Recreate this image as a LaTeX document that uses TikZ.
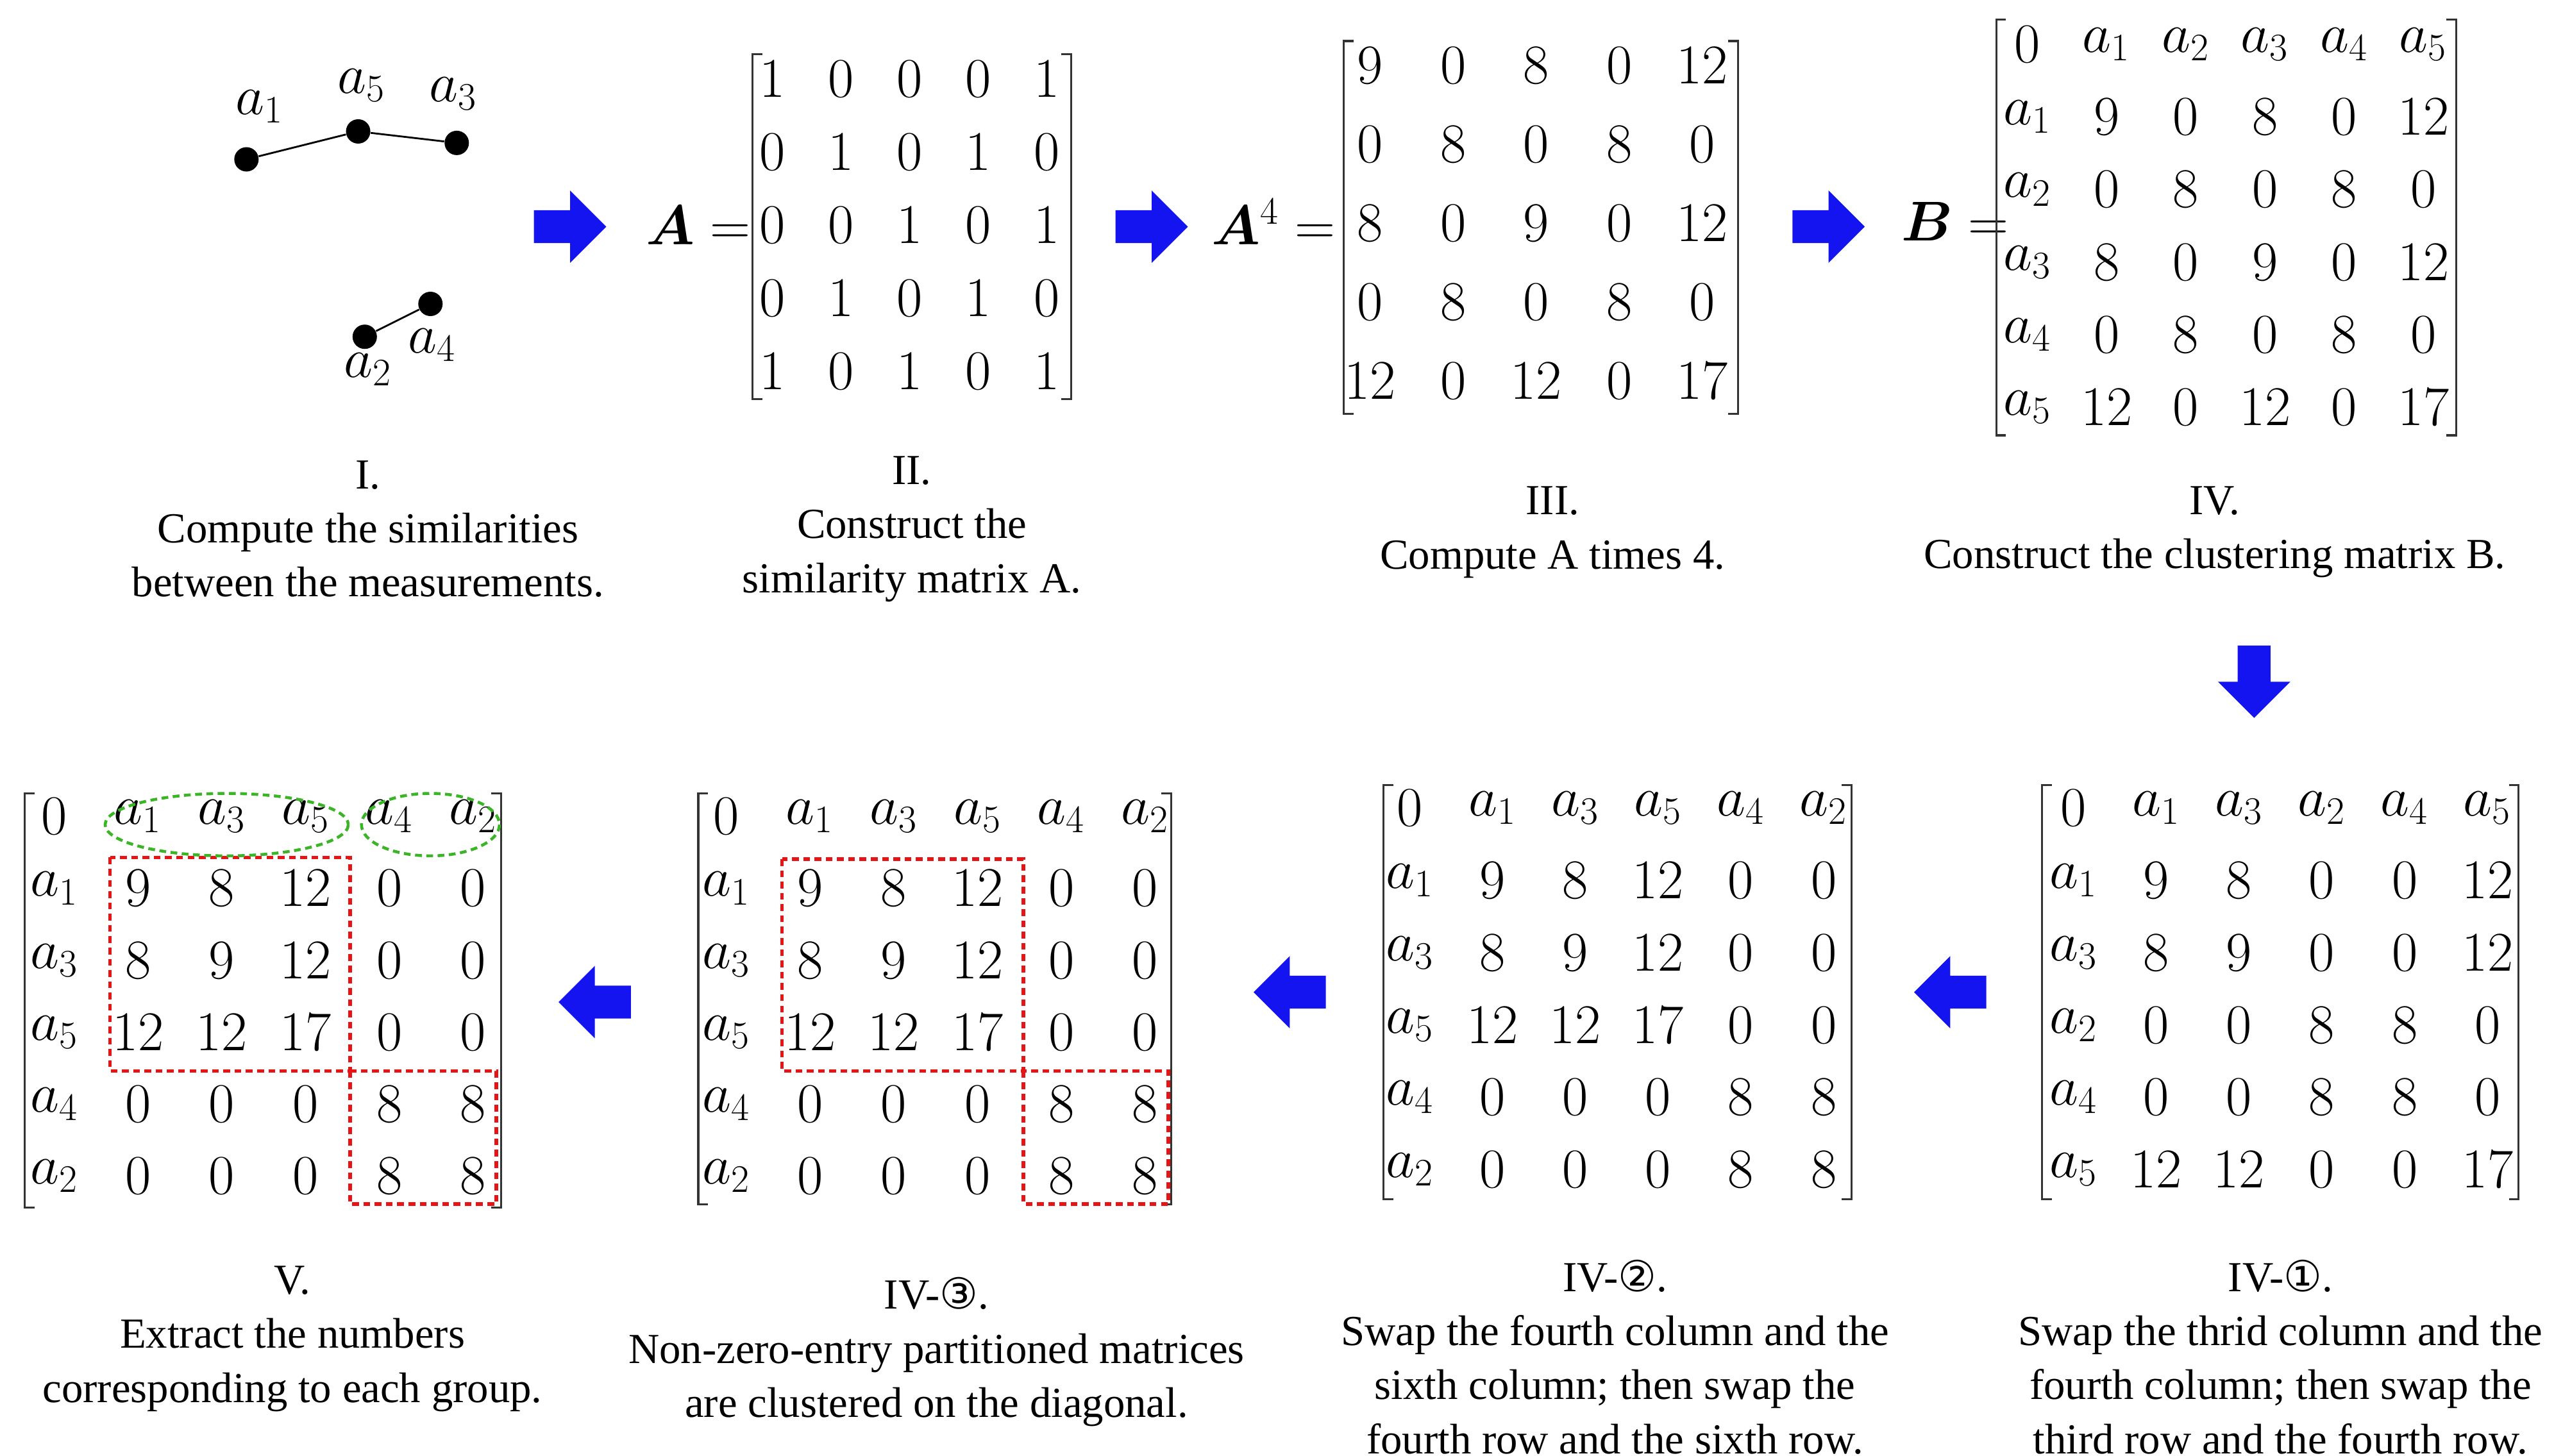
\documentclass[tikz,border=0pt]{standalone}
\usepackage{amsmath}
\usepackage{bm}
\usepackage{fontspec}
\setmainfont{Liberation Serif}
\newfontfamily\symfont{DejaVu Sans}
\usetikzlibrary{positioning}
\definecolor{arrowblue}{RGB}{20,20,240}
\definecolor{boxred}{RGB}{230,20,20}
\definecolor{ringgreen}{RGB}{60,180,40}

% entries of a matrix: prefix, x0, dx, y0, dy, number of columns, entries
\newcommand{\putmat}[7]{%
  \foreach \e [count=\k from 0] in {#7} {
    \pgfmathtruncatemacro\rr{\k/#6}
    \pgfmathtruncatemacro\cc{mod(\k,#6)}
    \node[entry] (#1-\rr-\cc) at ({#2+\cc*#3},{#4+\rr*#5}) {$\e$};
  }}
% brackets of a matrix: left, right, top, bottom
\newcommand{\brackets}[4]{%
  \draw[bracket] (#1+6,#3)--(#1,#3)--(#1,#4)--(#1+6,#4);
  \draw[bracket] (#2-6,#3)--(#2,#3)--(#2,#4)--(#2-6,#4);}

\begin{document}
\begin{tikzpicture}[x=0.02562cm, y=-0.02562cm,
    entry/.style={inner sep=0pt, font=\fontsize{23}{28}\selectfont},
    caption/.style={align=center, font=\fontsize{19}{24}\selectfont},
    bracket/.style={line width=0.9pt, black!80},
    dot/.style={circle, fill=black, minimum size=0.38cm, inner sep=0pt},
    vlabel/.style={font=\fontsize{24}{28}\selectfont},
    redbox/.style={boxred, densely dashed, line width=1.6pt},
    greenring/.style={ringgreen, densely dashed, line width=1.3pt},
    blockarrow/.pic={\fill[arrowblue] (-22,-10)--(0,-10)--(0,-22)--(22,0)--(0,22)--(0,10)--(-22,10)--cycle;}
]
\useasboundingbox (0,0) rectangle (1560,886);

% I. graph of the measurements
\node[dot] (n1) at (150,97) {};
\node[dot] (n5) at (218,80) {};
\node[dot] (n3) at (278,87) {};
\node[dot] (n2) at (222,205) {};
\node[dot] (n4) at (262,185) {};
\node[vlabel] at (158,65) {$a_1$};
\node[vlabel] at (220,52) {$a_5$};
\node[vlabel] at (276,57) {$a_3$};
\node[vlabel] at (224,225) {$a_2$};
\node[vlabel] at (263,210) {$a_4$};
\draw[thick] (n1) -- (n5) -- (n3);
\draw[thick] (n2) -- (n4);
\node[caption] (capI) at (224,322) {I.\\Compute the similarities\\between the measurements.};

% II. similarity matrix A
\pic at (347,138) {blockarrow};
\node[entry] (labA) at (425,137) {$\bm{A}=$};
\brackets{458}{652}{33}{243}
\putmat{a}{470}{41.75}{48}{44.5}{5}{1,0,0,0,1, 0,1,0,1,0, 0,0,1,0,1, 0,1,0,1,0, 1,0,1,0,1}
\node[caption] (capII) at (555,322) {II.\\Construct the\\similarity matrix A.};

% III. A to the fourth
\pic at (701,138) {blockarrow};
\node[entry] (labA4) at (775,135) {$\bm{A}^{4}=$};
\brackets{818}{1058}{25}{252}
\putmat{p}{834}{50.5}{40}{48}{5}{9,0,8,0,12, 0,8,0,8,0, 8,0,9,0,12, 0,8,0,8,0, 12,0,12,0,17}
\node[caption] (capIII) at (945,324) {III.\\Compute A times 4.};

% IV. clustering matrix B
\pic at (1113,138) {blockarrow};
\node[entry] (labB) at (1190,135) {$\bm{B}=$};
\brackets{1215}{1495}{12}{265}
\putmat{b}{1234}{48.2}{27}{44.2}{6}{0,a_1,a_2,a_3,a_4,a_5, a_1,9,0,8,0,12, a_2,0,8,0,8,0, a_3,8,0,9,0,12, a_4,0,8,0,8,0, a_5,12,0,12,0,17}
\node[caption] (capIV) at (1348,324) {IV.\\Construct the clustering matrix B.};

% IV-1. first swap
\pic[rotate=-90] at (1372,415) {blockarrow};
\brackets{1243}{1533}{478}{730}
\putmat{s}{1262}{50.4}{492}{44}{6}{0,a_1,a_3,a_2,a_4,a_5, a_1,9,8,0,0,12, a_3,8,9,0,0,12, a_2,0,0,8,8,0, a_4,0,0,8,8,0, a_5,12,12,0,0,17}
\node[caption] (capIVa) at (1388,826) {IV-{\symfont ①}.\\Swap the thrid column and the\\fourth column; then swap the\\third row and the fourth row.};

% IV-2. second swap
\pic[rotate=180] at (1187,604) {blockarrow};
\brackets{842}{1127}{478}{730}
\putmat{t}{858}{50.4}{492}{44}{6}{0,a_1,a_3,a_5,a_4,a_2, a_1,9,8,12,0,0, a_3,8,9,12,0,0, a_5,12,12,17,0,0, a_4,0,0,0,8,8, a_2,0,0,0,8,8}
\node[caption] (capIVb) at (983,826) {IV-{\symfont ②}.\\Swap the fourth column and the\\sixth column; then swap the\\fourth row and the sixth row.};

% IV-3. partitioned matrices
\pic[rotate=180] at (785,604) {blockarrow};
\brackets{425}{713}{483}{733}
\putmat{u}{442}{51}{497}{43.8}{6}{0,a_1,a_3,a_5,a_4,a_2, a_1,9,8,12,0,0, a_3,8,9,12,0,0, a_5,12,12,17,0,0, a_4,0,0,0,8,8, a_2,0,0,0,8,8}
\draw[redbox] (476,523) rectangle (623,652);
\draw[redbox] (623,652) rectangle (711,733);
\node[caption] (capIVc) at (570,823) {IV-{\symfont ③}.\\Non-zero-entry partitioned matrices\\are clustered on the diagonal.};

% V. extract the groups
\pic[rotate=180] at (362,610) {blockarrow};
\brackets{15}{305}{483}{735}
\putmat{v}{33}{51}{497}{43.8}{6}{0,a_1,a_3,a_5,a_4,a_2, a_1,9,8,12,0,0, a_3,8,9,12,0,0, a_5,12,12,17,0,0, a_4,0,0,0,8,8, a_2,0,0,0,8,8}
\draw[redbox] (67,522) rectangle (213,652);
\draw[redbox] (213,652) rectangle (302,733);
\draw[greenring] (138,502) ellipse [x radius=74, y radius=19];
\draw[greenring] (262,502) ellipse [x radius=42, y radius=19];
\node[caption] (capV) at (178,815) {V.\\Extract the numbers\\corresponding to each group.};
\end{tikzpicture}
\end{document}
